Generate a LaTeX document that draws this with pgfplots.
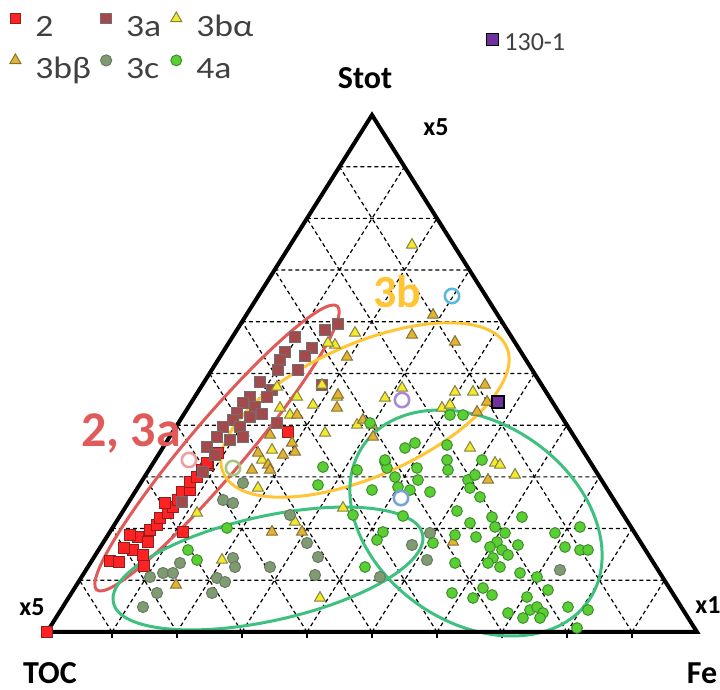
\documentclass[border=0pt]{standalone}
\usepackage{fontspec}
\setmainfont{Carlito}
\newfontfamily\legfont[FakeStretch=1.15]{Carlito}
\usepackage{pgfplots}
\pgfplotsset{compat=1.18}
\definecolor{cTwo}{HTML}{FF2222}
\definecolor{cTwoE}{HTML}{8A2020}
\definecolor{cThreeA}{HTML}{A34A4C}
\definecolor{cThreeAE}{HTML}{707070}
\definecolor{cAlpha}{HTML}{F2EA2A}
\definecolor{cAlphaE}{HTML}{858048}
\definecolor{cBeta}{HTML}{E3B42E}
\definecolor{cBetaE}{HTML}{85703A}
\definecolor{cThreeC}{HTML}{7F9B72}
\definecolor{cThreeCE}{HTML}{6B7A64}
\definecolor{cFourA}{HTML}{5ACF34}
\definecolor{cFourAE}{HTML}{3D8E2A}
\definecolor{cPurple}{HTML}{7030A0}
\definecolor{cRedLab}{HTML}{E05A5A}
\definecolor{cOrange}{HTML}{FFC535}
\definecolor{cGreenEll}{HTML}{3EC07E}
\definecolor{cText}{HTML}{404040}
\definecolor{cCyan}{HTML}{5CB8DC}
\definecolor{cLav}{HTML}{A88BD2}
\definecolor{cBlue}{HTML}{7AA2DA}
\definecolor{cLGreen}{HTML}{A6C57E}
\definecolor{cPink}{HTML}{EE9E9E}

\pgfplotsset{
  tern/.style={scale only axis, width=360pt, height=345pt,
    xmin=0, xmax=720, ymin=0, ymax=690, y dir=reverse, hide axis, clip=false},
  legimg/.style={legend image code/.code={
      \path[draw=none, fill=none] (0pt,-2pt) rectangle (14pt,10pt);
      \draw[##1] plot coordinates {(4pt,5pt)};}},
  legimgB/.style={legend image code/.code={
      \path[draw=none, fill=none] (0pt,-2pt) rectangle (10pt,10pt);
      \draw[##1] plot coordinates {(4pt,1.5pt)};}},
  legsty/.style={legend cell align=left, legend style={draw=none, fill=none, inner sep=0pt,
      font=\legfont\fontsize{15.5}{18}\selectfont, text=cText,
      nodes={inner sep=0pt, text height=11pt, text depth=3pt},
      row sep=4pt,
      /tikz/every even column/.append style={column sep=3.5pt}}},
}

\begin{document}
\begin{tikzpicture}
\begin{axis}[tern, legimg, legsty, legend columns=3,
  legend style={at={(axis cs:7,8)}, anchor=north west}]

% dashed grid
\addplot[forget plot, black, line width=0.6pt, dash pattern=on 2pt off 1.5pt, unbounded coords=jump] coordinates {
 (79.5,580.3) (664.5,580.3) (nan,nan)
 (112,528.6) (632,528.6) (nan,nan)
 (144.5,476.9) (599.5,476.9) (nan,nan)
 (177,425.2) (567,425.2) (nan,nan)
 (209.5,373.5) (534.5,373.5) (nan,nan)
 (242,321.8) (502,321.8) (nan,nan)
 (274.5,270.1) (469.5,270.1) (nan,nan)
 (307,218.4) (437,218.4) (nan,nan)
 (339.5,166.7) (404.5,166.7) (nan,nan)
 (112,632) (404.5,166.7) (nan,nan)
 (177,632) (437,218.4) (nan,nan)
 (242,632) (469.5,270.1) (nan,nan)
 (307,632) (502,321.8) (nan,nan)
 (372,632) (534.5,373.5) (nan,nan)
 (437,632) (567,425.2) (nan,nan)
 (502,632) (599.5,476.9) (nan,nan)
 (567,632) (632,528.6) (nan,nan)
 (632,632) (664.5,580.3) (nan,nan)
 (112,632) (79.5,580.3) (nan,nan)
 (177,632) (112,528.6) (nan,nan)
 (242,632) (144.5,476.9) (nan,nan)
 (307,632) (177,425.2) (nan,nan)
 (372,632) (209.5,373.5) (nan,nan)
 (437,632) (242,321.8) (nan,nan)
 (502,632) (274.5,270.1) (nan,nan)
 (567,632) (307,218.4) (nan,nan)
 (632,632) (339.5,166.7)
};
% bottom ticks
\addplot[forget plot, black, line width=0.7pt, unbounded coords=jump] coordinates {
 (112,632) (112,638) (nan,nan) (177,632) (177,638) (nan,nan)
 (242,632) (242,638) (nan,nan) (307,632) (307,638) (nan,nan)
 (372,632) (372,638) (nan,nan) (437,632) (437,638) (nan,nan)
 (502,632) (502,638) (nan,nan) (567,632) (567,638) (nan,nan)
 (632,632) (632,638)
};

% 2
\addplot[only marks, mark=square*, mark size=2.6pt, mark options={fill=cTwo, draw=cTwoE, line width=0.5pt}] table {
x y
110 561
119 562
144 566
133 550
138 537
148 542
124 548
150 530
157 525
160 518
168 513
173 507
165 503
178 500
182 492
190 490
190 482
197 477
202 470
208 465
218 453
183 532
130 535
143 555
288 432
207 463
47 632
};
\addlegendentry{2}

% 3a
\addplot[only marks, mark=square*, mark size=2.6pt, mark options={fill=cThreeA, draw=cThreeAE, line width=0.5pt}] table {
x y
325 330
338 324
312 348
295 337
285 352
280 360
298 370
305 356
278 370
322 385
260 382
272 390
250 397
267 397
255 407
243 403
262 414
237 413
250 417
233 420
277 423
240 427
223 427
217 437
230 440
243 437
207 447
215 455
203 472
182 502
};
\addlegendentry{3a}

% 3b alpha
\addplot[only marks, mark=triangle*, mark size=3.2pt, mark options={fill=cAlpha, draw=cAlphaE, line width=0.5pt}] table {
x y
412 245
355 333
335 345
402 388
455 392
473 392
328 343
322 385
277 387
297 397
337 397
313 405
385 398
290 415
357 425
442 408
450 405
470 448
495 463
500 465
515 475
343 508
295 522
258 488
197 513
222 560
320 598
272 450
262 460
325 433
280 408
};
\addlegendentry{3bα}

% 3b beta
\addplot[only marks, mark=triangle*, mark size=3.2pt, mark options={fill=cBeta, draw=cBetaE, line width=0.5pt}] table {
x y
433 315
412 335
455 342
347 357
485 385
338 395
487 402
477 412
337 408
297 415
363 420
373 437
270 435
292 443
295 452
283 455
268 465
252 470
270 470
258 453
372 425
453 542
488 480
302 532
272 532
176 585
};
\addlegendentry{3bβ}

% 3c
\addplot[only marks, mark=*, mark size=2.8pt, mark options={fill=cThreeC, draw=cThreeCE, line width=0.5pt}] table {
x y
143 607
157 593
150 577
163 573
173 573
180 563
212 593
217 578
225 582
233 558
235 567
270 567
315 575
318 557
307 543
290 515
223 500
233 503
243 483
380 577
412 545
427 560
430 533
560 570
};
\addlegendentry{3c}

% 4a
\addplot[only marks, mark=*, mark size=2.7pt, mark options={fill=cFourA, draw=cFourAE, line width=0.5pt}] table {
x y
188 550
197 560
227 528
318 485
323 467
353 515
365 567
372 490
383 532
377 540
385 462
387 468
370 423
357 470
398 487
410 490
403 516
405 448
415 443
385 460
417 468
395 477
418 480
430 492
447 445
447 460
448 470
463 415
450 415
482 460
468 480
475 475
470 488
480 497
457 511
470 523
492 517
495 527
522 517
455 535
476 537
505 533
518 545
555 533
580 527
565 547
580 550
588 550
497 542
490 547
502 550
508 555
493 558
488 563
500 567
520 573
455 563
433 543
537 577
452 593
473 598
483 588
492 595
527 597
548 590
508 613
523 618
530 610
537 607
543 613
540 618
568 607
588 610
577 628
};
\addlegendentry{4a}

% highlighted open circles
\addplot[forget plot, only marks, mark=o, mark size=3.6pt, mark options={draw=cCyan, line width=1.3pt}] coordinates {(452,296)};
\addplot[forget plot, only marks, mark=o, mark size=3.6pt, mark options={draw=cLav, line width=1.3pt}] coordinates {(402,400)};
\addplot[forget plot, only marks, mark=o, mark size=3.6pt, mark options={draw=cBlue, line width=1.3pt}] coordinates {(401,498)};
\addplot[forget plot, only marks, mark=o, mark size=3.6pt, mark options={draw=cLGreen, line width=1.3pt}] coordinates {(233,468)};
\addplot[forget plot, only marks, mark=o, mark size=3.6pt, mark options={draw=cPink, line width=1.3pt}] coordinates {(189,460)};

% group ellipses
\draw[cRedLab, line width=1.5pt, rotate around={49.7:(axis cs:217,448)}] (axis cs:217,448) ellipse [x radius=93pt, y radius=14pt];
\draw[cOrange, line width=1.5pt, rotate around={24:(axis cs:365,410)}] (axis cs:365,410) ellipse [x radius=77.5pt, y radius=33pt];
\draw[cGreenEll, line width=1.5pt, rotate around={12.5:(axis cs:268,568.5)}] (axis cs:268,568.5) ellipse [x radius=79.2pt, y radius=26.1pt];
\draw[cGreenEll, line width=1.5pt, rotate around={-34.5:(axis cs:476,523)}] (axis cs:476,523) ellipse [x radius=68.4pt, y radius=49.9pt];

% triangle frame
\addplot[forget plot, black, line width=2pt, line join=miter] coordinates {(47,632) (697,632) (372,115) (47,632) (697,632)};

% labels
\node[font=\fontsize{25}{30}\selectfont\bfseries, text=cRedLab] at (axis cs:131,433) {2, 3a};
\node[font=\fontsize{23}{28}\selectfont\bfseries, text=cOrange] at (axis cs:397,292) {3b};
\node[font=\fontsize{16}{19}\selectfont\bfseries] at (axis cs:365,78) {Stot};
\node[font=\fontsize{16}{19}\selectfont\bfseries] at (axis cs:50,673) {TOC};
\node[font=\fontsize{16}{19}\selectfont\bfseries] at (axis cs:702,673) {Fe};
\node[font=\fontsize{13}{15}\selectfont\bfseries] at (axis cs:436,127) {x5};
\node[font=\fontsize{13}{15}\selectfont\bfseries] at (axis cs:32,607) {x5};
\node[font=\fontsize{13}{15}\selectfont\bfseries] at (axis cs:708,605) {x1};
\end{axis}

\begin{axis}[tern, legimgB, legsty,
  legend style={at={(axis cs:484,22)}, anchor=north west, font=\fontsize{13}{16}\selectfont}]
\addplot[only marks, mark=square*, mark size=3pt, mark options={fill=cPurple, draw=black, line width=0.6pt}] coordinates {(498,402)};
\addlegendentry{130-1}
\end{axis}
\pgfresetboundingbox
\useasboundingbox (current axis.south west) rectangle (current axis.north east);
\end{tikzpicture}
\end{document}
